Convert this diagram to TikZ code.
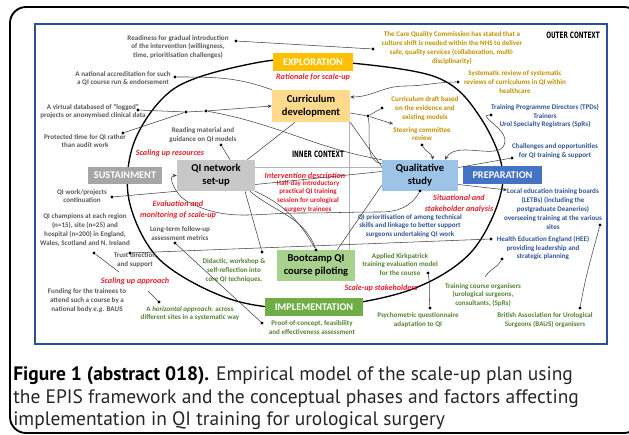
\documentclass[tikz,border=0pt]{standalone}
\usepackage{fontspec}
\setmainfont{Carlito}
\newfontfamily\capfont{PT Sans}
\newfontfamily\condfont{DejaVu Sans Condensed}
\usetikzlibrary{arrows.meta,calc}
\definecolor{cExpl}{RGB}{255,192,0}
\definecolor{cCurr}{RGB}{255,217,140}
\definecolor{cQIn}{RGB}{200,200,200}
\definecolor{cSust}{RGB}{166,166,166}
\definecolor{cQual}{RGB}{157,195,230}
\definecolor{cPrep}{RGB}{68,114,196}
\definecolor{cBoot}{RGB}{169,209,142}
\definecolor{cImpl}{RGB}{112,173,71}
\definecolor{tGray}{RGB}{89,89,89}
\definecolor{tGold}{RGB}{191,144,0}
\definecolor{tBlue}{RGB}{47,85,151}
\definecolor{tGreen}{RGB}{84,130,53}
\definecolor{tRed}{RGB}{228,32,42}
\definecolor{frameBlue}{RGB}{46,77,155}
\begin{document}
\begin{tikzpicture}[x=0.75pt,y=-0.75pt,
  small/.style={font=\fontsize{5.3}{6.6}\selectfont\bfseries, align=center, inner sep=0pt},
  gtxt/.style={small, text=tGray},
  otxt/.style={small, text=tGold},
  btxt/.style={small, text=tBlue},
  grtxt/.style={small, text=tGreen},
  rtxt/.style={font=\fontsize{6.1}{8.2}\selectfont\bfseries\itshape, align=center, inner sep=0pt, text=tRed},
  rtxtn/.style={small, text=tRed},
  phase/.style={font=\fontsize{7.7}{9}\selectfont\bfseries, text=white, inner sep=0pt, minimum height=13.5pt},
  factor/.style={font=\fontsize{7.9}{9.75}\selectfont\bfseries, align=center, inner sep=0pt, minimum height=23.25pt, minimum width=58.5pt},
  dot/.style={circle, fill=black, inner sep=0pt, minimum size=2.4pt},
  con/.style={draw=black!75, line width=0.4pt},
  arr/.style={con, -{Stealth[length=3pt,width=2.6pt]}},
  gline/.style={draw=black!30, line width=0.5pt},
  capline/.style={anchor=base west, inner sep=0pt, text=black!85, font=\capfont\fontsize{14.6}{17}\selectfont}]
\useasboundingbox (0,0) rectangle (629,435);
% outer frame
\draw[line width=1.4pt, rounded corners=12pt] (10,7) rectangle (640,433);
% blue frame
\draw[frameBlue, line width=1.6pt] (35,24) rectangle (607,344);
% phase cycle
\draw[line width=1pt] plot[smooth cycle, tension=0.55] coordinates {(313,60) (433,76) (480,117) (503,180) (473,250) (410,290) (314,308) (233,300) (160,260) (129,200) (135,140) (175,88) (250,64)};
% inner cross lines
\draw[gline] (349,122) -- (349,250);
\draw[gline] (255,167) -- (382,167);
% context labels
\node[inner sep=0pt] (outer) at (573,35) {\scalebox{0.72}[1]{\condfont\bfseries\fontsize{6.6}{7}\selectfont OUTER CONTEXT}};
\node[inner sep=0pt] (inner) at (318,154) {\scalebox{0.72}[1]{\condfont\bfseries\fontsize{6.6}{7}\selectfont INNER CONTEXT}};
% phase boxes
\node[phase, fill=cExpl, minimum width=60pt] (expl) at (313,62) {EXPLORATION};
\node[phase, fill=cSust, minimum width=55.5pt, minimum height=12.75pt] (sust) at (125,175.5) {SUSTAINMENT};
\node[phase, fill=cPrep, minimum width=59.25pt] (prep) at (502.5,175) {PREPARATION};
\node[phase, fill=cImpl, minimum width=73.5pt] (impl) at (314,307) {IMPLEMENTATION};
% factor boxes
\node[factor, fill=cCurr, minimum height=24pt] (curr) at (311,106) {Curriculum\\development};
\node[factor, fill=cQIn] (qinet) at (216,175.5) {QI network\\set-up};
\node[factor, fill=cQual, minimum width=57pt] (qual) at (420,175.5) {Qualitative\\study};
\node[factor, fill=cBoot] (boot) at (316,265.5) {Bootcamp QI\\course piloting};
% texts
\node[rtxt] (tRat) at (313,77) {Rationale for scale-up};
\node[gtxt] (tReady) at (178,47) {Readiness for gradual introduction\\of the intervention (willingness,\\time, prioritisation challenges)};
\node[gtxt] (tAccr) at (123,78.5) {A national accreditation for such\\a QI course run \& endorsement};
\node[gtxt] (tDB) at (93,111.5) {A virtual databased of “logged”\\projects or anonymised clinical data};
\node[gtxt] (tProt) at (85,141) {Protected time for QI rather\\than audit work};
\node[gtxt] (tRead) at (203,135) {Reading material and\\guidance on QI models};
\node[rtxt] (tSRes) at (170,153) {Scaling up resources};
\node[gtxt] (tQIw) at (82,196) {QI work/projects\\continuation};
\node[rtxt] (tEval) at (178,209.5) {Evaluation and\\monitoring of scale-up};
\node[gtxt] (tChamp) at (85,230) {QI champions at each region\\(n=15), site (n=25) and\\hospital (n=200) in England,\\Wales, Scotland and N. Ireland};
\node[gtxt] (tTrust) at (135,260) {Trust direction\\and support};
\node[gtxt] (tLong) at (180,233.5) {Long-term follow-up\\assessment metrics};
\node[rtxt] (tSApp) at (135,281) {Scaling up approach};
\node[gtxt] (tFund) at (87,300.5) {Funding for the trainees to\\attend such a course by a\\national body \textit{e.g.} BAUS};
\node[grtxt] (tHoriz) at (190,313.5) {A \textit{horizontal approach}: across\\different sites in a systematic way};
\node[grtxt] (tDid) at (234,270.5) {Didactic, workshop \&\\self-reflection into\\core QI techniques.};
\node[grtxt] (tProof) at (312,327.5) {Proof-of-concept, feasibility\\and effectiveness assessment};
\node[rtxt] (tInt) at (305,176) {Intervention description};
\node[rtxtn] (tHalf) at (308,196.5) {Half-day introductory\\practical QI training\\session for urological\\surgery trainees};
\node[btxt] (tTPD) at (545,116) {Training Programme Directors (TPDs)\\Trainers\\Urol Specialty Registrars (SpRs)};
\node[btxt] (tChal) at (555,151) {Challenges and opportunities\\for QI training \& support};
\node[btxt] (tLETB) at (553,209) {Local education training boards\\(LETBs) (including the\\postgraduate Deaneries)\\overseeing training at the various\\sites};
\node[rtxt] (tSit) at (459,204) {Situational and\\stakeholder analysis};
\node[btxt] (tPrio) at (410,226) {QI prioritisation of among technical\\skills and linkage to better support\\surgeons undertaking QI work};
\node[btxt] (tHEE) at (543,248) {Health Education England (HEE)\\providing leadership and\\strategic planning};
\node[otxt] (tCQC) at (452,48) {The Care Quality Commission has stated that a\\culture shift is needed within the NHS to deliver\\safe, quality services (collaboration, multi-\\disciplinarity)};
\node[otxt] (tSys) at (515,82) {Systematic review of systematic\\reviews of curriculums in QI within\\healthcare};
\node[otxt] (tDraft) at (425,108.5) {Curriculum draft based\\on the evidence and\\existing models};
\node[otxt] (tSteer) at (422,134) {Steering committee\\review};
\node[grtxt] (tKirk) at (400,264.5) {Applied Kirkpatrick\\training evaluation model\\for the course};
\node[rtxt] (tSStk) at (381,288) {Scale-up stakeholders};
\node[grtxt] (tTrain) at (483,295) {Training course organisers\\(urological surgeons,\\consultants, (SpRs)};
\node[grtxt] (tPsych) at (418,320) {Psychometric questionnaire\\adaptation to QI};
\node[grtxt] (tBAUS) at (545,320) {British Association for Urological\\Surgeons (BAUS) organisers};
% dots
\node[dot] (dReady) at (236,41) {};
\node[dot] (dCQC) at (373,49) {};
\node[dot] (dAccr) at (175,77) {};
\node[dot] (dDB) at (138,110) {};
\node[dot] (dJ1) at (186,112) {};
\node[dot] (dJ2) at (206,111) {};
\node[dot] (dProt) at (123,133) {};
\node[dot] (dRead) at (221,145) {};
\node[dot] (dQIw) at (112,197) {};
\node[dot] (dChamp) at (94,253) {};
\node[dot] (dTrust) at (130,253) {};
\node[dot] (dLong) at (175,243) {};
\node[dot] (dHoriz) at (159,302) {};
\node[dot] (dDid) at (262,252) {};
\node[dot] (dProof) at (262,323) {};
\node[dot] (dBoot) at (316,250) {};
\node[dot] (dTPD) at (491,115) {};
\node[dot] (dChal) at (512,158) {};
\node[dot] (dLETB) at (600,225) {};
\node[dot] (dBAUS) at (580,308) {};
\node[dot] (dHEE) at (491,239) {};
\node[dot] (dSys) at (458,82) {};
\node[dot] (dDraft) at (382,108) {};
\node[dot] (dJ3) at (368,116) {};
\node[dot] (dSteer) at (422,145) {};
\node[dot] (dQual) at (420,191) {};
\node[dot] (dKirk) at (428,273) {};
\node[dot] (dPsych) at (430,308) {};
\node[dot] (dTrain) at (502,259) {};
\coordinate (cSApp) at (119,272);
\coordinate (cSApp2) at (148,291);
\coordinate (cTrainEnd) at (485,277);
\coordinate (cSteerEnd) at (393,124);
\coordinate (cLETBEnd) at (507,190);
% connectors
\draw[con] (dReady) -- (dCQC);
\draw[con] (dAccr) to[out=0,in=160] (curr.north west);
\draw[arr] (dDB) -- (dJ1) -- (dJ2) -- (curr.west);
\draw[con] (dProt) -- (dJ1);
\draw[con] (dJ2) to[out=-10,in=170] (qual.north west);
\draw[con] (curr.south east) -- ($(qual.north west)+(0,7)$);
\draw[con] (dRead) -- ($(qinet.north)+(14,0)$);
\draw[con] ($(qinet.north east)+(-8,0)$) -- ($(curr.south)+(-16,0)$);
\draw[con] ($(qinet.east)+(0,9)$) -- ($(qual.west)+(0,-4)$);
\draw[con] (dQIw) -- (qinet.south west);
\draw[arr] (dQual) to[out=-120,in=0] (380,212) to[out=180,in=0] (300,213) to[out=180,in=-30] (185,200) to[out=150,in=180] (qinet.west);
\draw[con] (dChamp) -- (cSApp);
\draw[con] (dTrust) -- (dHEE);
\draw[con] (dLong) -- (dProof);
\draw[con] (dHoriz) -- (cSApp2);
\draw[con] (dDid) -- ($(qinet.south)+(29,0)$);
\draw[con] ($(qinet.south)+(34,0)$) to[out=-40,in=110] (dBoot);
\draw[con] (qinet.south east) to[out=-25,in=120] (dBoot);
\draw[con] ($(qual.south west)+(0,-6)$) -- ($(boot.north east)+(-18,0)$);
\draw[arr] (dTPD) to[out=180,in=90] (505,140) to[out=-90,in=60] ($(qual.north)+(25,0)$);
\draw[con] ($(qual.east)+(0,-8)$) -- (dChal);
\draw[arr] ($(qual.east)+(0,9)$) -- (cLETBEnd);
\draw[con] (dLETB) to[out=-105,in=80] (dBAUS);
\draw[arr] (dSys) to[out=180,in=0] (405,86) to[out=180,in=0] ($(curr.east)+(0,-9)$);
\draw[con] ($(curr.east)+(0,7)$) -- (dJ3);
\draw[con] (dJ3) -- (dDraft);
\draw[arr] (dJ3) -- (cSteerEnd);
\draw[con] (dJ3) to[out=-80,in=170] ($(qual.north west)+(0,4)$);
\draw[arr] (dSteer) to[out=-60,in=100] ($(qual.north)+(13,0)$);
\draw[con] (dKirk) to[out=-80,in=95] (dPsych);
\draw[con] (dTrain) to[out=-120,in=60] (cTrainEnd);
% caption
\node[capline] (cap1) at (13,380) {\textcolor{black}{\textbf{Figure 1 (abstract 018).}} Empirical model of the scale-up plan using};
\node[capline] (cap2) at (13,403) {the EPIS framework and the conceptual phases and factors affecting};
\node[capline] (cap3) at (13,425) {implementation in QI training for urological surgery};
\end{tikzpicture}
\end{document}
